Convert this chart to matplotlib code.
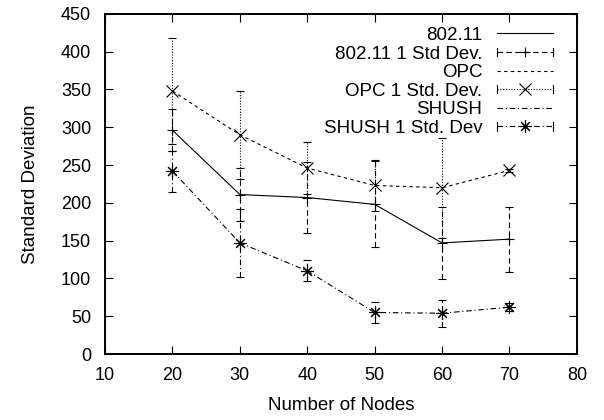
import matplotlib
matplotlib.use("Agg")
import matplotlib.pyplot as plt
from matplotlib.lines import Line2D
from matplotlib.legend_handler import HandlerBase

plt.rcParams['font.family'] = ['Liberation Sans', 'DejaVu Sans']

nodes = [20, 30, 40, 50, 60, 70]
std_80211 = [296, 211, 207, 198, 147, 152]
err_80211 = [28, 35, 47, 57, 48, 43]
std_opc = [348, 290, 246, 223, 220, 243]
err_opc = [70, 58, 34, 34, 66, 2]
std_shush = [242, 147, 110, 55, 54, 62]
err_shush = [27, 45, 14, 14, 18, 5]

labels = ['802.11', '802.11 1 Std Dev.', 'OPC', 'OPC 1 Std. Dev.', 'SHUSH', 'SHUSH 1 Std. Dev']

DASH = (0, (5, 3))
SHORT = (0, (3, 3))
DOT = (0, (1, 1.5))
DASHDOT = (0, (5, 2.5, 1, 2.5))
ASTER = (8, 2, 0)
MSIZE = {'+': 7, 'x': 8, ASTER: 9}

fig = plt.figure(figsize=(6.04, 4.2), dpi=100)
ax = fig.add_axes([0.174, 0.157, 0.781, 0.81])


def err_series(y, e, ls, marker):
    c = ax.errorbar(nodes, y, yerr=e, fmt='none', ecolor='black', elinewidth=0.8,
                    capsize=3, capthick=0.8)
    for bl in c[2]:
        bl.set_linestyle(ls)
    ax.plot(nodes, y, ls='none', marker=marker, color='black', ms=MSIZE[marker], mew=0.8)


ax.plot(nodes, std_80211, color='black', lw=0.8, ls='-')
err_series(std_80211, err_80211, DASH, '+')
ax.plot(nodes, std_opc, color='black', lw=0.8, ls=SHORT)
err_series(std_opc, err_opc, DOT, 'x')
ax.plot(nodes, std_shush, color='black', lw=0.8, ls=DASHDOT)
err_series(std_shush, err_shush, DASHDOT, ASTER)

ax.set_xlim(10, 80)
ax.set_ylim(0, 450)
ax.set_xticks(range(10, 81, 10))
ax.set_yticks(range(0, 451, 50))
ax.tick_params(direction='in', length=6, width=0.8, top=True, right=True, labelsize=13)
ax.tick_params(axis='x', pad=9)
ax.tick_params(axis='y', pad=10)
for s in ax.spines.values():
    s.set_linewidth(1.4)
ax.set_xlabel('Number of Nodes', fontsize=13.5, labelpad=10)
ax.set_ylabel('Standard Deviation', fontsize=13.5, labelpad=16)


# gnuplot style key sample: line with end caps and a point in the middle
class ErrKey(HandlerBase):
    def __init__(self, ls, marker):
        super().__init__()
        self.ls = ls
        self.marker = marker

    def create_artists(self, legend, orig_handle, xdescent, ydescent, width, height, fontsize, trans):
        y = height / 2 - ydescent
        x0, x1 = -xdescent, width - xdescent
        h = 3
        arts = [Line2D([x0, x1], [y, y], ls=self.ls, color='black', lw=0.8),
                Line2D([x0, x0], [y - h, y + h], color='black', lw=0.8),
                Line2D([x1, x1], [y - h, y + h], color='black', lw=0.8),
                Line2D([(x0 + x1) / 2], [y], ls='none', marker=self.marker, color='black',
                       ms=MSIZE[self.marker], mew=0.8)]
        for a in arts:
            a.set_transform(trans)
        return arts


def plain(ls):
    return Line2D([], [], color='black', lw=0.8, ls=ls)


handles = []
hmap = {}
for ls, mk in [('-', '+'), (SHORT, 'x'), (DASHDOT, ASTER)]:
    handles.append(plain(ls))
    dummy = Line2D([], [])
    handles.append(dummy)
    hmap[dummy] = ErrKey({'-': DASH, SHORT: DOT, DASHDOT: DASHDOT}[ls], mk)

ax.legend(handles, labels, loc='upper right', bbox_to_anchor=(0.949, 0.962), frameon=False,
          markerfirst=False, handlelength=3.0, handletextpad=0.75, labelspacing=0.08,
          fontsize=13.5, handler_map=hmap, borderpad=0, borderaxespad=0)

fig.savefig('out.png', dpi=100)
